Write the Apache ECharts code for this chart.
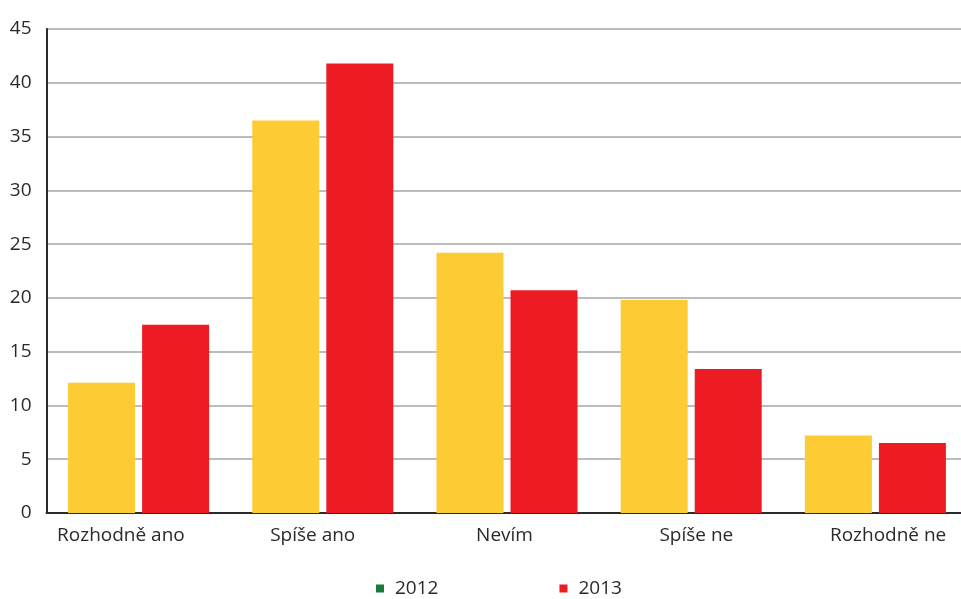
<!DOCTYPE html>
<html>
<head>
<meta charset="utf-8">
<script src="https://cdn.jsdelivr.net/npm/echarts@6/dist/echarts.min.js"></script>
<style>
html,body{margin:0;padding:0;background:#fff;}
#chart{width:961px;height:599px;}
</style>
</head>
<body>
<div id="chart"></div>
<script>
var categories = ['Rozhodně ano', 'Spíše ano', 'Nevím', 'Spíše ne', 'Rozhodně ne'];
var seriesNames = ['2012', '2013'];
var values2012 = [12.1, 36.5, 24.2, 19.8, 7.2];
var values2013 = [17.5, 41.8, 20.7, 13.4, 6.5];
var yTicks = [0, 5, 10, 15, 20, 25, 30, 35, 40, 45];

var FONT = '"Open Sans", "Noto Sans", sans-serif';
var chart = echarts.init(document.getElementById('chart'), null, {renderer: 'canvas'});

var option = {
  animation: false,
  backgroundColor: '#ffffff',
  legend: {
    left: 376,
    top: 579,
    padding: 0,
    itemWidth: 8,
    itemHeight: 8,
    itemGap: 121,
    icon: 'rect',
    textStyle: {fontFamily: FONT, fontSize: 19, color: '#2a2a2a', padding: [0, 0, 0, 6]},
    data: [
      {name: seriesNames[0], itemStyle: {color: '#1a7a3a'}},
      {name: seriesNames[1], itemStyle: {color: '#ed1c24'}}
    ]
  },
  grid: [
    {left: 46.5, width: 921, top: 29, height: 484, outerBoundsMode: 'none', containLabel: false},
    {left: 25, width: 959, top: 29, height: 484, outerBoundsMode: 'none', containLabel: false}
  ],
  xAxis: [
    {
      type: 'category', gridIndex: 0, data: categories,
      axisLine: {show: true, lineStyle: {color: '#2b2b2b', width: 2}},
      axisTick: {show: false},
      axisLabel: {show: false}
    },
    {
      type: 'category', gridIndex: 1, data: categories,
      axisLine: {show: false},
      axisTick: {show: false},
      axisLabel: {show: true, margin: 13, fontFamily: FONT, fontSize: 19, color: '#2a2a2a'}
    }
  ],
  yAxis: [
    {
      type: 'value', gridIndex: 0, min: yTicks[0], max: yTicks[yTicks.length - 1], interval: 5,
      axisLine: {show: true, lineStyle: {color: '#2b2b2b', width: 2}},
      axisTick: {show: false},
      axisLabel: {margin: 15, fontFamily: FONT, fontSize: 19, color: '#2a2a2a'},
      splitLine: {show: true, lineStyle: {color: '#a6a6a6', width: 1.5}}
    },
    {type: 'value', gridIndex: 1, show: false, min: 0, max: 45}
  ],
  series: [
    {
      name: seriesNames[0], type: 'bar', xAxisIndex: 0, yAxisIndex: 0,
      data: values2012, barWidth: 67, barGap: '10.5%',
      itemStyle: {color: '#fdcb33'}
    },
    {
      name: seriesNames[1], type: 'bar', xAxisIndex: 0, yAxisIndex: 0,
      data: values2013, barWidth: 67, barGap: '10.5%',
      itemStyle: {color: '#ed1c24'}
    }
  ]
};
chart.setOption(option);
</script>
</body>
</html>
